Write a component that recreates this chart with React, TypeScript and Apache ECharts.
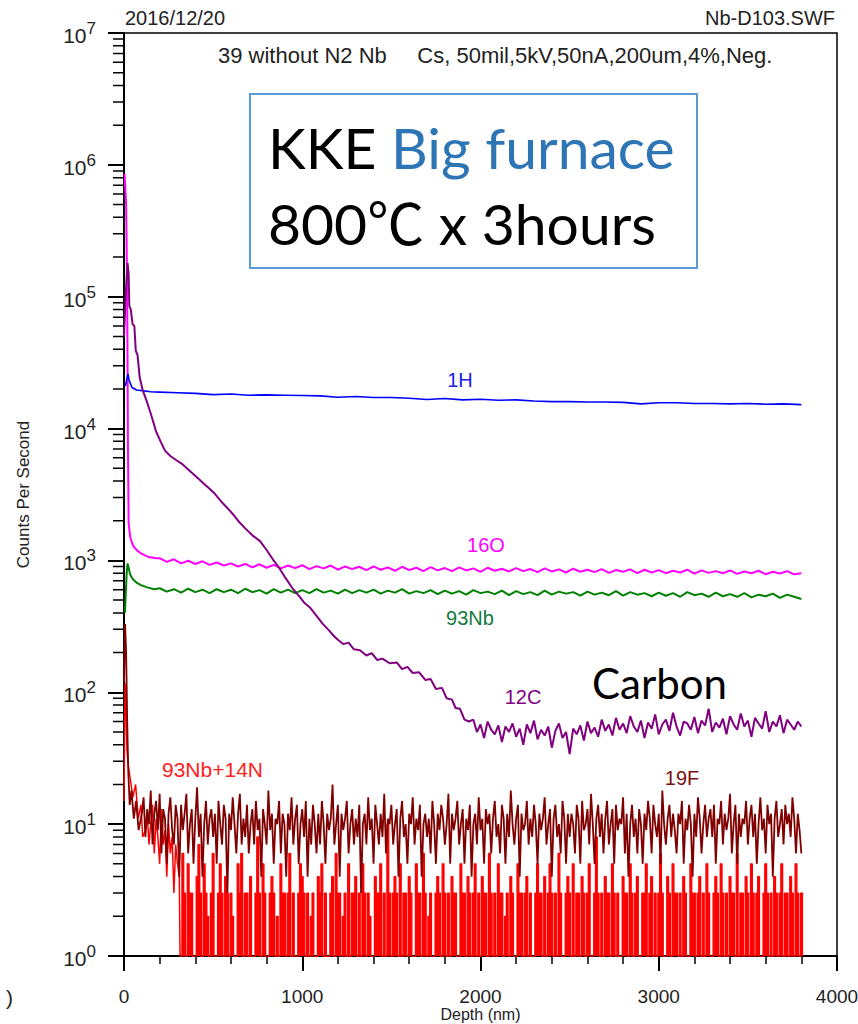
import React, { useEffect, useRef } from 'react';
import * as echarts from 'echarts';

const FONT = "'Liberation Sans Narrow', 'Liberation Sans', Arial, sans-serif";
const BOX_FONT = "Lato, 'Open Sans', 'Noto Sans CJK JP', sans-serif";

// Axes
const X_MIN = 0;
const X_MAX = 4000;
const X_INTERVAL = 1000;
const Y_MIN = 1;
const Y_MAX = 1e7;
const Y_DECADES = [1, 10, 100, 1000, 10000, 100000, 1000000];
const Y_MINOR_MULT = [2, 3, 4, 5, 6, 7, 8, 9];

// 1H  (surface part as [depth, cps], then bulk readings every 100 nm from 200 nm)
const H1_HEAD = [[8, 21000], [22, 26000], [30, 23000], [45, 20500], [70, 19600], [100, 19400], [150, 19000]];
const H1_START = 200;
const H1_STEP = 100;
const H1_TAIL = [18900, 18700, 18500, 18100, 18300, 17900, 18000, 17900, 17800, 17700, 17300, 17500, 17200, 17200, 17000, 16600, 16900, 16500, 16700, 16400, 16500, 16200, 16000, 16000, 15900, 15900, 15800, 15400, 15700, 15700, 15500, 15500, 15400, 15500, 15300, 15400, 15200];

// 16O
const O16_HEAD = [[3, 850000], [12, 500000], [18, 100000], [22, 8000], [26, 1900], [35, 1500], [50, 1300], [70, 1200], [100, 1120], [140, 1060], [180, 1040]];
const O16_START = 200;
const O16_STEP = 40;
const O16_TAIL = [
  1040, 975, 1020, 950, 995, 940, 985, 925, 965, 915,
  950, 900, 940, 885, 935, 880, 925, 870, 915, 875,
  920, 860, 905, 870, 915, 850, 900, 860, 895, 845,
  900, 850, 885, 835, 895, 845, 880, 830, 890, 840,
  875, 830, 885, 840, 870, 820, 880, 835, 865, 825,
  875, 830, 860, 815, 870, 825, 855, 810, 865, 820,
  850, 815, 860, 805, 845, 820, 855, 800, 850, 810,
  845, 800, 835, 810, 850, 795, 840, 805, 830, 800,
  840, 790, 825, 800, 835, 785, 820, 795, 830, 785,
  800,
];

// 93Nb
const NB93_HEAD = [[5, 400], [15, 800], [20, 950], [26, 880], [35, 780], [50, 720], [70, 680], [95, 650], [130, 625], [170, 605]];
const NB93_START = 200;
const NB93_STEP = 40;
const NB93_TAIL = [
  615, 580, 605, 570, 610, 575, 600, 565, 605, 575,
  600, 565, 610, 575, 595, 560, 605, 570, 600, 565,
  595, 565, 605, 570, 590, 560, 600, 565, 595, 570,
  600, 560, 590, 570, 605, 560, 585, 565, 595, 555,
  590, 560, 585, 550, 595, 565, 580, 555, 590, 545,
  585, 555, 575, 545, 590, 550, 580, 560, 575, 540,
  580, 550, 570, 545, 585, 540, 575, 550, 565, 535,
  570, 540, 565, 530, 575, 545, 560, 530, 570, 535,
  555, 530, 565, 525, 550, 535, 560, 520, 550, 530,
  510,
];

// 12C
const C12_HEAD = [
  [0, 50000], [12, 120000], [20, 180000], [26, 150000], [30, 85000], [38, 80000], [48, 62000], [58, 60000],
  [66, 39000], [76, 36000], [88, 24500], [105, 19500], [125, 16500], [150, 13000], [180, 9500], [205, 8000],
  [230, 6800], [260, 6200], [290, 5800], [325, 5400], [360, 4900], [390, 4500], [415, 4200], [450, 3800],
  [480, 3500], [510, 3200], [545, 2800], [580, 2500], [610, 2250], [640, 2000], [680, 1750], [720, 1550],
  [763, 1400], [800, 1200], [835, 1020], [870, 880], [905, 740], [943, 620], [980, 540], [1010, 480],
  [1043, 440], [1080, 380], [1115, 330], [1150, 295], [1180, 265], [1200, 250], [1230, 232], [1260, 238],
  [1290, 212], [1324, 208], [1360, 190], [1390, 198], [1420, 176], [1450, 180], [1490, 166], [1531, 168],
  [1560, 150], [1590, 156], [1620, 140], [1655, 142], [1690, 124], [1720, 126], [1750, 106], [1784, 108],
  [1810, 90], [1840, 88], [1860, 76], [1885, 75], [1910, 62], [1935, 60],
];
const C12_START = 1960;
const C12_STEP = 20;
const C12_TAIL = [
  62, 50, 57, 45, 60, 52, 48, 56, 42, 55,
  50, 58, 46, 53, 40, 57, 49, 61, 44, 52,
  47, 55, 38, 51, 58, 45, 50, 34, 53, 48,
  56, 43, 60, 49, 54, 46, 62, 51, 57, 47,
  64, 52, 58, 49, 66, 55, 50, 61, 45, 59,
  53, 68, 48, 57, 62, 51, 70, 55, 47, 60,
  58, 52, 65, 49, 61, 56, 75, 50, 59, 54,
  63, 48, 66, 57, 52, 69, 55, 61, 46, 64,
  58, 53, 72, 50, 60, 55, 67, 49, 62, 57,
  52, 60, 55,
];

// 19F
const F19_HEAD = [[0, 120], [6, 330], [12, 200], [18, 60], [24, 25], [32, 14], [42, 18], [55, 11], [68, 15], [82, 9]];
const F19_START = 100;
const F19_STEP = 10;
const F19_TAIL = [
  12, 16, 8, 13, 10, 18, 7, 12, 15, 9, 17, 6, 13, 11, 5, 12, 16, 9, 7, 14,
  11, 4, 14, 9, 12, 17, 6, 10, 13, 5, 11, 19, 8, 12, 4, 10, 15, 7, 11, 13,
  8, 12, 5, 15, 10, 7, 14, 11, 3, 12, 9, 16, 10, 6, 12, 17, 7, 11, 8, 14,
  6, 10, 13, 7, 15, 9, 11, 4, 13, 10, 7, 18, 9, 12, 5, 11, 10, 15, 6, 12,
  10, 4, 12, 9, 16, 7, 11, 14, 5, 10, 13, 8, 15, 4, 11, 7, 14, 10, 6, 12,
  7, 15, 10, 5, 12, 9, 11, 20, 7, 10, 14, 4, 12, 9, 11, 15, 6, 10, 13, 7,
  11, 8, 14, 3, 10, 12, 7, 16, 9, 11, 5, 14, 10, 7, 12, 8, 17, 6, 11, 10,
  14, 7, 10, 13, 4, 11, 15, 8, 10, 5, 12, 10, 16, 7, 11, 9, 14, 4, 10, 12,
  8, 11, 6, 15, 10, 5, 12, 9, 14, 11, 7, 10, 17, 5, 12, 9, 11, 15, 7, 10,
  13, 5, 11, 9, 14, 4, 10, 12, 7, 16, 9, 11, 5, 13, 10, 12, 6, 11, 15, 8,
  10, 6, 14, 11, 5, 12, 8, 18, 10, 7, 11, 14, 4, 12, 9, 10, 15, 7, 11, 8,
  14, 10, 5, 12, 9, 11, 16, 7, 10, 13, 4, 11, 14, 8, 10, 6, 15, 11, 5, 12,
  8, 12, 10, 6, 14, 11, 5, 15, 9, 10, 13, 7, 17, 10, 5, 11, 14, 8, 12, 6,
  11, 15, 7, 10, 13, 5, 14, 9, 11, 10, 16, 6, 12, 4, 10, 14, 8, 11, 6, 13,
  10, 5, 12, 9, 15, 11, 6, 14, 10, 8, 12, 5, 18, 10, 7, 11, 14, 8, 12, 9,
  6, 12, 10, 15, 5, 11, 9, 14, 10, 4, 12, 8, 16, 11, 6, 10, 14, 8, 11, 13,
  8, 14, 5, 11, 10, 15, 7, 12, 9, 11, 17, 6, 10, 14, 5, 12, 8, 11, 10, 15,
  7, 11, 14, 8, 12, 5, 10, 16, 9, 11, 6, 14, 10, 12, 4, 11, 15, 8, 10, 13,
  7, 14, 10, 12, 8, 16, 11, 6, 12, 9, 6,
];

// 93Nb+14N: near-surface readings, then the dense bulk readings every 10 nm (0 = no counts)
const NBN_HEAD = [[0, 15], [6, 117], [12, 70], [17, 36], [24, 28], [35, 22], [50, 16], [65, 20], [80, 11], [95, 14], [105, 8],
  [120, 9], [130, 12], [140, 7], [150, 10], [160, 14], [170, 6], [180, 11], [190, 8], [200, 5], [210, 13], [220, 7],
  [230, 9], [240, 4], [250, 10], [260, 6], [270, 8], [280, 3], [290, 7], [300, 5], [310, 4]];
const NBN_START = 320;
const NBN_STEP = 10;
const NBN_TAIL = [
  0, 6, 3, 0, 5, 3, 3, 0, 0, 4, 7, 3, 0, 5, 3, 2, 0, 3, 6, 0,
  0, 3, 5, 3, 0, 4, 3, 0, 3, 2, 0, 0, 5, 3, 6, 0, 3, 3, 0, 4,
  0, 0, 3, 8, 3, 0, 5, 3, 0, 0, 3, 4, 3, 0, 2, 0, 5, 3, 3, 0,
  3, 6, 0, 3, 0, 0, 3, 5, 4, 3, 0, 3, 0, 2, 3, 0, 0, 4, 3, 5,
  0, 3, 0, 0, 3, 4, 0, 6, 3, 3, 0, 2, 3, 0, 5, 0, 3, 3, 4, 0,
  3, 0, 5, 3, 0, 3, 2, 0, 0, 4, 3, 3, 5, 0, 3, 0, 10, 3, 0, 3,
  4, 3, 0, 5, 0, 3, 3, 0, 4, 3, 0, 0, 5, 3, 3, 0, 6, 3, 0, 2,
  3, 0, 0, 3, 4, 3, 0, 5, 3, 0, 3, 0, 4, 3, 3, 0, 0, 5, 3, 3,
  0, 4, 3, 0, 3, 5, 0, 3, 0, 4, 3, 3, 0, 6, 3, 0, 3, 0, 5, 3,
  3, 0, 2, 3, 0, 4, 3, 0, 0, 5, 3, 3, 0, 3, 4, 0, 3, 0, 0, 3,
  5, 3, 3, 0, 4, 0, 3, 5, 3, 0, 3, 0, 6, 3, 0, 0, 3, 4, 3, 0,
  5, 0, 3, 3, 0, 4, 3, 0, 3, 5, 0, 0, 3, 8, 3, 0, 3, 0, 4, 3,
  3, 0, 5, 3, 0, 3, 0, 0, 4, 3, 3, 0, 5, 3, 0, 3, 4, 0, 0, 3,
  3, 5, 0, 3, 4, 0, 3, 0, 3, 6, 3, 0, 0, 4, 3, 0, 5, 3, 3, 0,
  3, 0, 4, 3, 0, 0, 5, 3, 3, 0, 3, 4, 0, 3, 0, 5, 3, 0, 0, 3,
  4, 3, 0, 5, 3, 0, 3, 0, 4, 3, 3, 0, 6, 0, 3, 3, 0, 4, 3, 0,
  5, 3, 0, 3, 4, 0, 0, 3, 5, 3, 0, 3, 0, 4, 3, 0, 3, 5, 0, 3,
  3, 0, 4, 3, 0, 5, 3, 0, 3, 3,
];

const ZERO_FLOOR = 0.2; // zero counts are drawn below the 10^0 floor (clipped away)

const floor0 = (v: number) => (v <= 0 ? ZERO_FLOOR : v);
const headRows = (head: number[][]) => head.map((p) => [p[0], floor0(p[1])]);
const tailRows = (start: number, step: number, tail: number[]) => tail.map((v, i) => [start + i * step, floor0(v)]);
const build = (head: number[][], start: number, step: number, tail: number[]) =>
  headRows(head).concat(tailRows(start, step, tail));

const SERIES = [
  // near-surface part of 93Nb+14N as a plain trace, bulk part as a dense step fill
  { name: '93Nb+14N', color: '#FF0000', width: 1.5, area: false, data: headRows(NBN_HEAD).concat(tailRows(NBN_START, NBN_STEP, NBN_TAIL).slice(0, 1)) },
  { name: '93Nb+14N bulk', color: '#FF0000', width: 1.3, area: true, data: tailRows(NBN_START, NBN_STEP, NBN_TAIL) },
  { name: '19F', color: '#800000', width: 1.8, area: false, data: build(F19_HEAD, F19_START, F19_STEP, F19_TAIL) },
  { name: '93Nb', color: '#008000', width: 2, area: false, data: build(NB93_HEAD, NB93_START, NB93_STEP, NB93_TAIL) },
  { name: '16O', color: '#FF00FF', width: 2, area: false, data: build(O16_HEAD, O16_START, O16_STEP, O16_TAIL) },
  { name: '1H', color: '#0000FF', width: 1.6, area: false, data: build(H1_HEAD, H1_START, H1_STEP, H1_TAIL) },
  { name: '12C', color: '#800080', width: 2, area: false, data: build(C12_HEAD, C12_START, C12_STEP, C12_TAIL) },
];

// minor log ticks, drawn in a narrow side grid that shares the log scale
const MINOR_TICK_DATA = Y_DECADES.flatMap((d) =>
  Y_MINOR_MULT.flatMap((m) => [[0, d * m], [1, d * m], [1, '-']])
);

export default function App() {
  const ref = useRef<HTMLDivElement>(null);
  useEffect(() => {
    if (!ref.current) return;
    const chart = echarts.init(ref.current, null, { renderer: 'svg' });
    const txt = (text: string, x: number, y: number, size: number, color: string, align = 'left', family = FONT) => ({
      type: 'text',
      x,
      y,
      silent: true,
      z: 100,
      style: {
        text,
        fontSize: size,
        fontFamily: family,
        fill: color,
        align,
        textAlign: align,
        verticalAlign: 'middle',
        textVerticalAlign: 'middle',
      },
    });
    chart.setOption({
      animation: false,
      backgroundColor: '#fff',
      grid: [
        { left: 124, right: 21, top: 33, bottom: 68, show: true, borderColor: '#000', borderWidth: 1.5, backgroundColor: 'transparent', containLabel: false, outerBoundsMode: 'none' },
        { left: 113, width: 11, top: 33, bottom: 68, show: false, containLabel: false, outerBoundsMode: 'none' },
      ],
      xAxis: [
        {
          type: 'value',
          gridIndex: 0,
          min: X_MIN,
          max: X_MAX,
          interval: X_INTERVAL,
          name: 'Depth (nm)',
          nameLocation: 'middle',
          nameGap: 50,
          nameMoveOverlap: false,
          nameTextStyle: { fontFamily: FONT, fontSize: 16, color: '#222' },
          axisLine: { show: true, lineStyle: { color: '#000', width: 2 } },
          axisTick: { show: true, length: 15, inside: false, lineStyle: { color: '#000', width: 2 } },
          minorTick: { show: true, splitNumber: 5, length: 8, lineStyle: { color: '#000', width: 1.5 } },
          axisLabel: { margin: 31, fontFamily: FONT, fontSize: 19, color: '#222', formatter: (v: number) => String(v) },
          splitLine: { show: false },
        },
        { type: 'value', gridIndex: 1, min: 0, max: 1, show: false },
      ],
      yAxis: [
        {
          type: 'log',
          gridIndex: 0,
          logBase: 10,
          min: Y_MIN,
          max: Y_MAX,
          name: 'Counts Per Second',
          nameLocation: 'middle',
          nameGap: 92,
          nameTextStyle: { fontFamily: FONT, fontSize: 17, color: '#222' },
          axisLine: { show: true, lineStyle: { color: '#000', width: 2 } },
          axisTick: { show: true, length: 16, inside: false, lineStyle: { color: '#000', width: 2 } },
          axisLabel: {
            margin: 28,
            formatter: (v: number) => `{b|10}{s|${Math.round(Math.log10(v))}}`,
            rich: {
              b: { fontFamily: FONT, fontSize: 21, color: '#222', lineHeight: 26, verticalAlign: 'bottom' },
              s: { fontFamily: FONT, fontSize: 17, color: '#222', lineHeight: 16, verticalAlign: 'top' },
            },
          },
          splitLine: { show: false },
        },
        { type: 'log', gridIndex: 1, logBase: 10, min: Y_MIN, max: Y_MAX, show: false },
      ],
      series: [
        ...SERIES.map((s) => ({
          name: s.name,
          type: 'line',
          xAxisIndex: 0,
          yAxisIndex: 0,
          data: s.data,
          symbol: 'none',
          showSymbol: false,
          clip: true,
          silent: true,
          step: s.area ? 'middle' : undefined,
          lineStyle: { color: s.color, width: s.width },
          itemStyle: { color: s.color },
          areaStyle: s.area ? { color: s.color, opacity: 1, origin: 'start' } : undefined,
        })),
        {
          name: 'minor ticks',
          type: 'line',
          xAxisIndex: 1,
          yAxisIndex: 1,
          data: MINOR_TICK_DATA,
          symbol: 'none',
          showSymbol: false,
          silent: true,
          connectNulls: false,
          z: 10,
          lineStyle: { color: '#000', width: 1.5 },
        },
      ],
      graphic: [
        txt('2016/12/20', 125, 18, 20, '#222'),
        txt('Nb-D103.SWF', 835, 18, 20, '#222', 'right'),
        txt('39 without N2 Nb     Cs, 50mil,5kV,50nA,200um,4%,Neg.', 218, 55, 22, '#222'),
        {
          type: 'rect',
          silent: true,
          z: 90,
          shape: { x: 250, y: 94, width: 447, height: 174 },
          style: { fill: '#fff', stroke: '#5B9BD5', lineWidth: 2 },
        },
        {
          type: 'text',
          x: 268,
          y: 147,
          z: 100,
          silent: true,
          style: {
            text: '{a|KKE }{b|Big furnace}',
            verticalAlign: 'middle',
            textVerticalAlign: 'middle',
            rich: {
              a: { fontFamily: BOX_FONT, fontSize: 57, fill: '#000', color: '#000' },
              b: { fontFamily: BOX_FONT, fontSize: 57, fill: '#2E75B6', color: '#2E75B6' },
            },
          },
        },
        txt('800℃ x 3hours', 268, 223, 57, '#000', 'left', BOX_FONT),
        txt('Carbon', 592, 683, 42, '#000', 'left', BOX_FONT),
        txt('1H', 460, 380, 20, '#2020E0', 'center'),
        txt('16O', 486, 545, 20, '#FF00FF', 'center'),
        txt('93Nb', 470, 618, 20, '#127a3c', 'center'),
        txt('12C', 523, 697, 20, '#800080', 'center'),
        txt('19F', 682, 778, 20, '#7a1010', 'center'),
        txt('93Nb+14N', 162, 769, 21, '#FF2020'),
        txt(')', 6, 997, 21, '#222'),
      ],
    });
    return () => chart.dispose();
  }, []);
  return <div ref={ref} style={{ position: 'absolute', left: 0, top: 0, width: 858, height: 1024 }} />;
}
